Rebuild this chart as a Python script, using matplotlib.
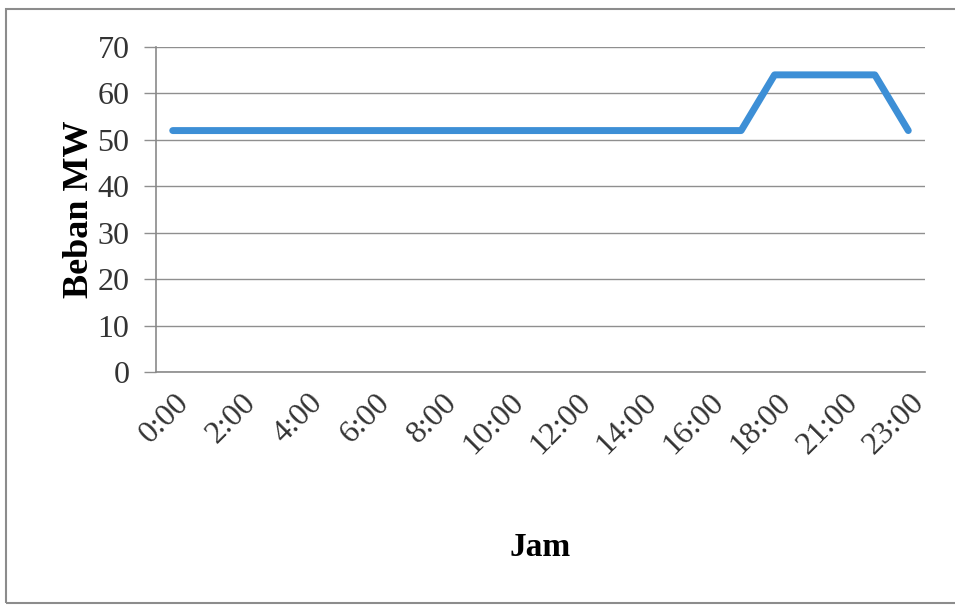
import matplotlib.pyplot as plt
from matplotlib.patches import Rectangle
from matplotlib.transforms import ScaledTranslation

# Hourly load data (MW)
jam = ['0:00', '1:00', '2:00', '3:00', '4:00', '5:00', '6:00', '7:00', '8:00',
       '9:00', '10:00', '11:00', '12:00', '13:00', '14:00', '15:00', '16:00',
       '17:00', '18:00', '20:00', '21:00', '22:00', '23:00']
beban = [52, 52, 52, 52, 52, 52, 52, 52, 52, 52, 52, 52, 52, 52, 52, 52, 52,
         52, 64, 64, 64, 64, 52]

plt.rcParams['font.family'] = ['Liberation Serif', 'DejaVu Serif']

fig = plt.figure(figsize=(9.55, 6.05), dpi=100)
ax = fig.add_axes([156 / 955, 1 - 372 / 605, (925 - 156) / 955, (372 - 47) / 605])

x = list(range(len(jam)))
ax.plot(x, beban, color='#3d8fd6', linewidth=5, solid_capstyle='round',
        solid_joinstyle='round', zorder=3)

ax.set_xlim(-0.5, len(jam) - 0.5)
ax.set_ylim(0, 70)
ax.set_yticks(range(0, 71, 10))
ax.yaxis.grid(True, color='#8f8f8f', linewidth=1.0)
ax.set_axisbelow(True)

for side in ['top', 'right']:
    ax.spines[side].set_visible(False)
for side in ['left', 'bottom']:
    ax.spines[side].set_color('#8a8a8a')
    ax.spines[side].set_linewidth(1.2)

ax.tick_params(axis='y', length=9, width=1.0, color='#8f8f8f',
               labelsize=23, pad=10, labelcolor='#333333')
ax.tick_params(axis='x', length=0, pad=19)

ax.set_xticks(x[::2])
ax.set_xticklabels(jam[::2], rotation=45, ha='right', va='center',
                   rotation_mode='anchor', fontsize=23, color='#333333')
shift = ScaledTranslation(0.12, 0, fig.dpi_scale_trans)
for lbl in ax.get_xticklabels():
    lbl.set_transform(lbl.get_transform() + shift)

ax.set_ylabel('Beban MW', fontsize=26, fontweight='bold', labelpad=1)
ax.set_xlabel('Jam', fontsize=24, fontweight='bold', labelpad=52)

# Chart border
fig.patches.append(Rectangle((6 / 955, 1 - 603 / 605), 1.2, (603 - 9) / 605,
                             transform=fig.transFigure, fill=False,
                             edgecolor='#8c8c8c', linewidth=1.5))

fig.savefig('out.png', dpi=100)
